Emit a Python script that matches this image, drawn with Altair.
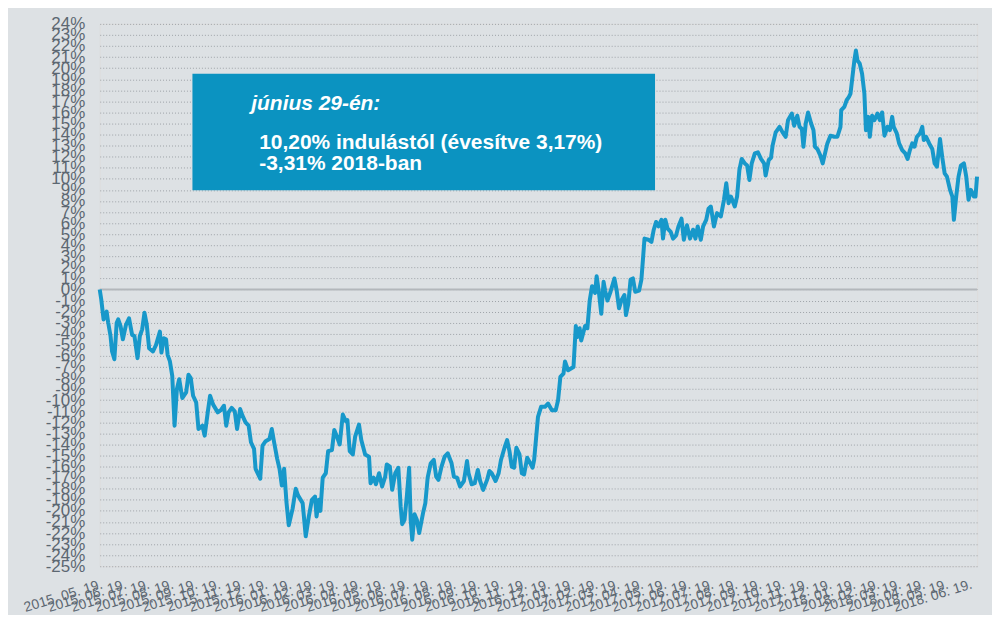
import altair as alt
import pandas as pd

start_date = "2015-05-19"

days_since_start = [
    0, 2, 5, 9, 11, 14, 16, 19, 22, 24, 27, 30, 34, 38, 42, 45, 49, 52, 55, 58,
    61, 64, 69, 73, 78, 80, 83, 86, 88, 91, 94, 97, 100, 103, 107, 112, 115, 118, 121, 125,
    128, 133, 136, 140, 143, 147, 153, 157, 161, 164, 167, 171, 175, 178, 182, 185, 189, 193, 196, 200,
    202, 208, 211, 215, 220, 223, 226, 230, 233, 236, 239, 242, 245, 250, 254, 257, 263, 267, 271, 275,
    279, 281, 284, 286, 289, 293, 296, 301, 304, 308, 311, 315, 319, 321, 324, 328, 331, 336, 339, 344,
    349, 351, 355, 358, 362, 366, 370, 372, 376, 379, 383, 387, 390, 392, 395, 398, 401, 403, 405, 408,
    411, 414, 419, 422, 425, 429, 433, 436, 439, 443, 447, 451, 456, 459, 463, 467, 472, 476, 478, 482,
    486, 490, 493, 497, 502, 505, 508, 513, 517, 520, 525, 528, 531, 534, 537, 540, 544, 547, 550, 554,
    558, 561, 563, 568, 572, 577, 581, 586, 591, 594, 597, 601, 603, 607, 614, 617, 619, 622, 624, 629,
    632, 635, 638, 642, 644, 647, 650, 653, 655, 658, 662, 667, 670, 673, 676, 680, 682, 685, 688, 691,
    694, 699, 702, 704, 706, 711, 715, 718, 721, 724, 728, 730, 733, 736, 740, 743, 747, 750, 754, 757,
    761, 765, 769, 772, 775, 779, 782, 786, 789, 792, 796, 800, 805, 809, 812, 815, 818, 823, 826, 829,
    832, 836, 839, 842, 845, 849, 853, 857, 861, 863, 867, 870, 872, 876, 881, 885, 889, 892, 897, 900,
    904, 907, 910, 912, 915, 918, 922, 925, 927, 930, 934, 937, 940, 943, 947, 952, 956, 960, 961, 965,
    968, 971, 973, 975, 978, 980, 982, 985, 988, 991, 993, 996, 998, 1001, 1004, 1008, 1011, 1014, 1017, 1021,
    1024, 1027, 1029, 1033, 1036, 1040, 1044, 1047, 1050, 1053, 1056, 1059, 1063, 1066, 1068, 1071, 1075, 1079, 1082, 1085,
    1089, 1092, 1095, 1098, 1102, 1105, 1107, 1110, 1113, 1116, 1120, 1123, 1126, 1129, 1133, 1135, 1137,
]

returns_pct = [
    0.0, -0.9, -2.7, -2.0, -3.0, -4.2, -5.6, -6.3, -3.0, -2.7, -3.3, -4.5, -3.2, -2.6, -4.1, -4.2, -6.2, -4.2, -3.6, -2.1,
    -3.2, -5.3, -5.6, -5.0, -3.8, -5.7, -4.4, -4.5, -5.9, -6.5, -7.8, -12.3, -9.0, -8.1, -9.8, -9.3, -7.7, -8.0, -9.6, -10.2,
    -12.6, -12.3, -13.2, -11.1, -9.6, -10.4, -11.1, -10.9, -10.5, -12.3, -11.1, -10.7, -11.0, -12.6, -10.8, -11.4, -12.0, -12.3, -13.8, -14.4,
    -16.2, -17.1, -14.1, -13.7, -13.5, -12.6, -13.8, -15.3, -16.2, -17.7, -16.2, -19.2, -21.3, -19.8, -18.0, -18.6, -19.3, -22.3, -20.5, -19.0,
    -18.7, -20.5, -19.0, -20.0, -17.0, -16.6, -14.6, -14.5, -12.7, -13.4, -14.0, -11.3, -11.9, -11.8, -14.6, -14.9, -13.3, -12.2, -13.6, -14.9,
    -15.1, -17.5, -17.0, -17.6, -16.6, -17.8, -16.9, -15.8, -16.0, -18.1, -16.6, -16.1, -19.6, -21.2, -20.8, -18.7, -16.1, -20.8, -22.6, -20.3,
    -20.8, -22.0, -20.2, -19.3, -17.0, -15.7, -15.4, -16.9, -17.2, -16.0, -15.1, -14.8, -15.7, -16.9, -17.0, -17.8, -17.3, -15.5, -16.6, -17.6,
    -17.5, -16.3, -17.3, -18.1, -17.2, -16.4, -16.6, -17.3, -16.6, -15.4, -14.2, -13.6, -14.6, -16.0, -16.1, -14.3, -14.9, -16.6, -16.7, -15.2,
    -15.7, -16.1, -15.4, -11.5, -10.6, -10.6, -10.3, -10.9, -10.9, -10.0, -7.9, -7.6, -6.5, -7.3, -7.0, -3.3, -4.3, -3.5, -4.6, -3.3,
    -3.5, -1.0, 0.3, -0.3, 1.2, -0.3, -2.2, 0.7, -0.1, -1.0, -0.2, 1.0, -0.1, -1.7, -1.0, -0.5, -2.3, -1.3, 0.9, 1.0,
    -0.2, -0.1, 0.9, 2.7, 4.6, 4.5, 4.3, 5.4, 6.1, 5.7, 6.3, 4.6, 6.3, 5.5, 5.2, 4.6, 4.9, 5.7, 6.4, 4.5,
    5.8, 4.6, 5.4, 4.6, 5.7, 4.5, 5.7, 6.3, 7.3, 7.5, 5.7, 6.9, 6.6, 8.1, 9.6, 7.8, 8.4, 7.5, 8.4, 10.8,
    11.8, 11.4, 11.2, 9.9, 11.4, 12.3, 12.4, 11.8, 11.4, 10.3, 11.7, 11.9, 13.0, 14.2, 14.7, 14.2, 13.8, 15.3, 15.9, 14.8,
    15.7, 14.7, 14.5, 12.9, 15.0, 16.0, 15.0, 14.4, 12.9, 12.7, 12.1, 11.4, 12.3, 13.2, 13.9, 13.8, 13.8, 14.7, 16.2, 16.5,
    17.1, 17.4, 17.7, 18.9, 20.7, 21.6, 20.7, 20.4, 19.5, 17.7, 14.4, 15.6, 13.8, 15.7, 15.3, 15.9, 15.3, 16.0, 13.9, 14.7,
    14.4, 15.6, 14.7, 14.1, 13.2, 12.6, 12.3, 11.8, 12.6, 13.2, 12.9, 13.8, 14.1, 14.7, 13.5, 13.8, 13.2, 12.7, 11.4, 11.1,
    13.6, 11.9, 10.5, 10.2, 9.0, 8.4, 6.3, 8.4, 10.2, 11.2, 11.4, 10.2, 8.1, 9.0, 8.4, 8.4, 10.2,
]

end_date = "2018-06-29"

tick_dates = [
    "2015-05-19", "2015-06-19", "2015-07-19", "2015-08-19", "2015-09-19", "2015-10-19",
    "2015-11-19", "2015-12-19", "2016-01-19", "2016-02-19", "2016-03-19", "2016-04-19",
    "2016-05-19", "2016-06-19", "2016-07-19", "2016-08-19", "2016-09-19", "2016-10-19",
    "2016-11-19", "2016-12-19", "2017-01-19", "2017-02-19", "2017-03-19", "2017-04-19",
    "2017-05-19", "2017-06-19", "2017-07-19", "2017-08-19", "2017-09-19", "2017-10-19",
    "2017-11-19", "2017-12-19", "2018-01-19", "2018-02-19", "2018-03-19", "2018-04-19",
    "2018-05-19", "2018-06-19",
]

y_ticks = list(range(-25, 25))
zero_level = [0]

box_title = "június 29-én:"
box_lines = ["10,20% indulástól (évesítve 3,17%)", "-3,31% 2018-ban"]

FONT = "Liberation Sans"
LINE_BLUE = "#1798ca"
BOX_BLUE = "#0b93c1"
LABEL_GRAY = "#5c6771"


def to_dt(s):
    y, m, d = (int(p) for p in s.split("-"))
    return alt.DateTime(year=y, month=m, date=d)


dates = pd.Timestamp(start_date) + pd.to_timedelta(days_since_start, unit="D")
df = pd.DataFrame({"date": dates, "value": returns_pct})

x_enc = alt.X(
    "date:T",
    scale=alt.Scale(domain=[to_dt(start_date), to_dt(end_date)], nice=False),
    axis=alt.Axis(
        values=[to_dt(s) for s in tick_dates],
        format="%Y. %m. %d.",
        labelAngle=-17,
        labelAlign="right",
        labelBaseline="top",
        labelOverlap=False,
        labelFlush=False,
        labelFontSize=14,
        labelFont=FONT,
        labelColor=LABEL_GRAY,
        labelPadding=11,
        domain=False,
        ticks=False,
        grid=False,
        title=None,
    ),
)

y_enc = alt.Y(
    "value:Q",
    scale=alt.Scale(domain=[-25, 24], nice=False, zero=False),
    axis=alt.Axis(
        values=y_ticks,
        labelExpr="datum.value + '%'",
        labelOverlap=False,
        labelFlush=False,
        labelFontSize=17,
        labelFont=FONT,
        labelColor=LABEL_GRAY,
        labelPadding=15,
        domain=False,
        ticks=False,
        grid=True,
        gridColor="#9ea3a8",
        gridDash=[1, 2],
        gridWidth=1,
        title=None,
    ),
)

zero_rule = alt.Chart(pd.DataFrame({"value": zero_level})).mark_rule(
    color="#b3b7bb", strokeWidth=2
).encode(y=y_enc)

box = alt.Chart(pd.DataFrame({"k": [0]})).mark_rect(color=BOX_BLUE).encode(
    x=alt.value(93), x2=alt.value(557), y=alt.value(50), y2=alt.value(167)
)

line = alt.Chart(df).mark_line(color=LINE_BLUE, strokeWidth=4, strokeJoin="round").encode(
    x=x_enc, y=y_enc
)

title_text = alt.Chart(pd.DataFrame({"t": [box_title]})).mark_text(
    align="left", baseline="middle", font=FONT, fontSize=21, fontWeight="bold",
    fontStyle="italic", color="white"
).encode(x=alt.value(152), y=alt.value(80), text="t:N")

line1_text = alt.Chart(pd.DataFrame({"t": [box_lines[0]]})).mark_text(
    align="left", baseline="middle", font=FONT, fontSize=21, fontWeight="bold", color="white"
).encode(x=alt.value(160), y=alt.value(120), text="t:N")

line2_text = alt.Chart(pd.DataFrame({"t": [box_lines[1]]})).mark_text(
    align="left", baseline="middle", font=FONT, fontSize=21, fontWeight="bold", color="white"
).encode(x=alt.value(160), y=alt.value(141), text="t:N")

chart = (
    alt.layer(zero_rule, box, line, title_text, line1_text, line2_text)
    .properties(
        width=880,
        height=544,
        padding={"left": 92, "top": 15, "right": 15, "bottom": 48},
        autosize=alt.AutoSizeParams(type="none"),
        background="#dde1e4",
    )
    .configure_view(stroke=None)
    .configure(font=FONT)
)

chart.save("out.html", embed_options={"renderer": "svg", "actions": False})
